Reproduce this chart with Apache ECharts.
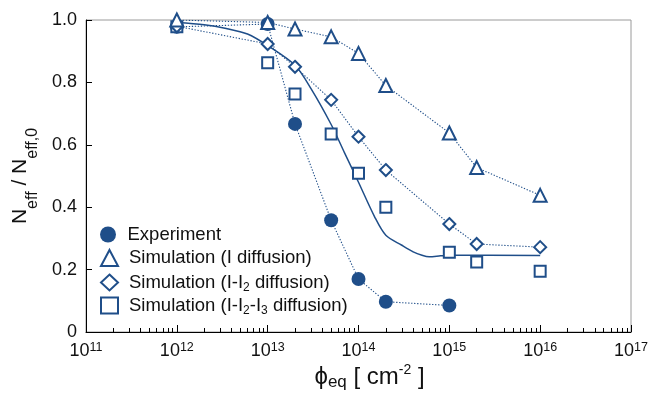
<!DOCTYPE html>
<html><head><meta charset="utf-8">
<script src="https://cdn.jsdelivr.net/npm/echarts@6/dist/echarts.min.js"></script>
<style>html,body{margin:0;padding:0;background:#fff}#c{width:656px;height:393px}</style>
</head><body><div id="c"></div><script>
// ---- data ----
const expX = [1e12, 1e13, 2e13, 5e13, 1e14, 2e14, 1e15];
const expY = [0.978, 0.987, 0.667, 0.358, 0.170, 0.097, 0.085];
const simX = [1e12, 1e13, 2e13, 5e13, 1e14, 2e14, 1e15, 2e15, 1e16];
const simIY = [1.0, 0.992, 0.971, 0.946, 0.893, 0.790, 0.638, 0.527, 0.438];
const simI2Y = [0.98, 0.923, 0.850, 0.744, 0.626, 0.519, 0.346, 0.282, 0.272];
const simI3Y = [0.978, 0.863, 0.763, 0.635, 0.509, 0.400, 0.256, 0.224, 0.195];
const fitX = [1e12, 2e12, 3.5e12, 6e12, 1e13, 2e13, 3e13, 5e13, 7e13, 1e14, 1.5e14, 2e14, 3e14, 4e14, 5e14, 6e14, 8e14, 1e15, 1e16];
const fitY = [0.992, 0.985, 0.973, 0.955, 0.918, 0.855, 0.78, 0.665, 0.575, 0.48, 0.37, 0.31, 0.278, 0.257, 0.246, 0.241, 0.244, 0.246, 0.245];
const seriesNames = ['Experiment', 'Simulation (I diffusion)', 'Simulation (I-I2 diffusion)', 'Simulation (I-I2-I3 diffusion)'];
const legendIcons = ['circle', 'triangle', 'diamond', 'rect'];
const xDecades = [11, 12, 13, 14, 15, 16, 17];
const yTicks = [0, 0.2, 0.4, 0.6, 0.8, 1.0];

// ---- styling ----
const BLUE = '#1f4e89';
const FONT = '"Liberation Sans", Arial, sans-serif';
const pairs = (xs, ys) => xs.map((x, i) => [x, ys[i]]);
const minorVals = [];
for (let d = 11; d < 17; d++) for (let k = 2; k <= 9; k++) minorVals.push(d + Math.log10(k));
const dotted = { color: BLUE, width: 1.1, type: [1.3, 1.7] };
const openStyle = { color: '#fff', borderColor: BLUE, borderWidth: 2 };
const legendFmt = n => n.split(/(I\d)/).filter(s => s.length).map(s => {
  const m = s.match(/^I(\d)$/);
  return m ? '{t|I}{sub|' + m[1] + '}' : '{t|' + s + '}';
}).join('');
const legendTops = [225, 248.5, 271, 294];

const legends = seriesNames.map((name, i) => ({
  orient: 'vertical', left: 100, top: legendTops[i], itemWidth: 17, itemHeight: 16, itemGap: 0,
  selectedMode: false, symbolKeepAspect: true, padding: 0,
  data: [{ name: name, icon: legendIcons[i] }],
  formatter: legendFmt,
  textStyle: {
    fontFamily: FONT, fontSize: 18.5, color: '#111', lineHeight: 16, padding: [0, 0, 0, 6],
    rich: {
      t: { fontFamily: FONT, fontSize: 18.5, color: '#111', lineHeight: 16 },
      sub: { fontFamily: FONT, fontSize: 12, color: '#111', lineHeight: 2, padding: [11, 0, 0, 0] }
    }
  }
}));

const chart = echarts.init(document.getElementById('c'), null, { renderer: 'canvas' });
chart.setOption({
  animation: false,
  backgroundColor: '#fff',
  textStyle: { fontFamily: FONT },
  grid: { left: 86, right: 25, top: 20, bottom: 61, show: true, borderColor: '#9a9a9a', borderWidth: 1, outerBoundsMode: 'none', containLabel: false },
  legend: legends,
  xAxis: [{
    type: 'log', logBase: 10, min: 1e11, max: 1e17, interval: 1, splitNumber: 6,
    name: '{n|\u03d5}{s|eq}{n| [ cm}{u|-2}{n| ]}',
    nameLocation: 'middle', nameGap: 30, nameMoveOverlap: false,
    nameTextStyle: {
      fontFamily: FONT, color: '#111', padding: [0, 0, 0, 22],
      rich: {
        n: { fontFamily: FONT, fontSize: 24, lineHeight: 30, color: '#111' },
        s: { fontFamily: FONT, fontSize: 17, lineHeight: 2, padding: [11, 0, 0, 0], color: '#111' },
        u: { fontFamily: FONT, fontSize: 14, lineHeight: 2, padding: [0, 0, 13, 0], color: '#111' }
      }
    },
    axisLine: { show: true, lineStyle: { color: '#000', width: 1 } },
    axisTick: { show: true, inside: true, length: 7, lineStyle: { color: '#000' } },
    splitLine: { show: false },
    minorTick: { show: false },
    axisLabel: {
      margin: 10, color: '#111',
      formatter: v => '{b|10}{p|' + Math.round(Math.log10(v)) + '}',
      rich: {
        b: { fontFamily: FONT, fontSize: 18, lineHeight: 18, color: '#111' },
        p: { fontFamily: FONT, fontSize: 12.5, lineHeight: 2, padding: [0, 0, 6, 0], color: '#111' }
      }
    }
  }, {
    type: 'value', min: 11, max: 17, position: 'bottom', gridIndex: 0,
    axisLine: { show: false }, splitLine: { show: false },
    axisLabel: { show: false },
    axisTick: { show: true, inside: true, length: 4, customValues: minorVals, lineStyle: { color: '#000' } }
  }],
  yAxis: {
    type: 'value', min: 0, max: 1, interval: 0.2,
    name: '{n|N}{s|eff}{n| / N}{s|eff,0}',
    nameLocation: 'middle', nameRotate: 90, nameGap: 46, nameMoveOverlap: false,
    nameTextStyle: {
      fontFamily: FONT, color: '#111',
      rich: {
        n: { fontFamily: FONT, fontSize: 21, lineHeight: 40, color: '#111' },
        s: { fontFamily: FONT, fontSize: 16, lineHeight: 2, padding: [26, 0, 0, 0], color: '#111' }
      }
    },
    axisLine: { show: true, lineStyle: { color: '#000', width: 1 } },
    axisTick: { show: true, inside: true, length: 6, lineStyle: { color: '#000' } },
    splitLine: { show: false },
    axisLabel: {
      margin: 9, fontFamily: FONT, fontSize: 18, color: '#111', padding: [5, 0, 0, 0],
      formatter: v => (v === 0 ? '0' : v.toFixed(1))
    }
  },
  series: [
    {
      name: 'fit', type: 'line', data: pairs(fitX, fitY), showSymbol: false, symbol: 'none',
      smooth: 0.3, lineStyle: { color: BLUE, width: 1.5, type: 'solid' }, z: 1, silent: true
    },
    {
      name: seriesNames[0], type: 'line', data: pairs(expX, expY), symbol: 'circle', symbolSize: 14,
      itemStyle: { color: BLUE, borderWidth: 0 }, lineStyle: dotted, z: 2
    },
    {
      name: seriesNames[3], type: 'line', data: pairs(simX, simI3Y), symbol: 'rect', symbolSize: 11,
      itemStyle: openStyle, lineStyle: { width: 0, opacity: 0 }, z: 3
    },
    {
      name: seriesNames[2], type: 'line', data: pairs(simX, simI2Y), symbol: 'diamond', symbolSize: 12,
      itemStyle: openStyle, lineStyle: dotted, z: 3
    },
    {
      name: seriesNames[1], type: 'line', data: pairs(simX, simIY), symbol: 'triangle', symbolSize: 13,
      itemStyle: openStyle, lineStyle: dotted, z: 3
    }
  ]
});
</script></body></html>
